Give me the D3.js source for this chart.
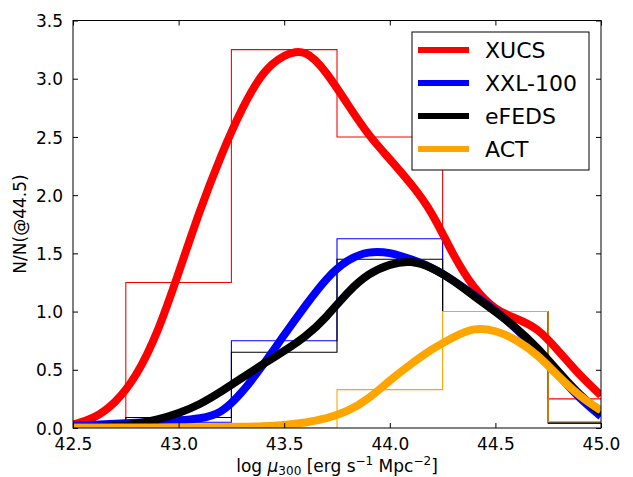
<!DOCTYPE html>
<html><head><meta charset="utf-8">
<script src="https://cdn.jsdelivr.net/npm/d3@7"></script>
<style>body{margin:0;background:#fff}svg{display:block}text{font-family:"DejaVu Sans",sans-serif}</style>
</head><body><svg id="c" width="633" height="477"></svg>
<script>
// ---- data ----
const series = ["XUCS", "XXL-100", "eFEDS", "ACT"];
const colors = ["#ff0000", "#0000ff", "#000000", "#ffa500"];
const binEdges = [42.75, 43.25, 43.75, 44.25, 44.75, 45.25];
const histXUCS = [1.25, 3.25, 2.5, 1.0, 0.25];
const histXXL  = [0.05, 0.75, 1.625, 1.0, 0.04];
const histEFEDS= [0.09, 0.65, 1.45, 1.0, 0.05];
const histACT  = [0.0, 0.0, 0.33, 1.0, 0.055];
const gridX = [42.5,42.6,42.7,42.8,42.9,43.0,43.1,43.2,43.3,43.4,43.5,43.6,43.7,43.8,43.9,44.0,44.1,44.2,44.3,44.4,44.5,44.6,44.7,44.8,44.9,45.0];
const curveXUCS = [0.03,0.08,0.21,0.44,0.81,1.33,1.87,2.34,2.75,3.07,3.21,3.26,3.06,2.78,2.51,2.31,2.10,1.86,1.48,1.19,1.01,0.94,0.86,0.66,0.45,0.28];
const curveXXL  = [0.02,0.028,0.035,0.045,0.055,0.065,0.08,0.12,0.30,0.54,0.80,1.05,1.29,1.45,1.52,1.51,1.45,1.38,1.27,1.14,1.01,0.85,0.67,0.45,0.25,0.10];
const curveEFEDS= [0.005,0.008,0.014,0.035,0.07,0.125,0.20,0.31,0.43,0.55,0.66,0.78,0.95,1.17,1.33,1.41,1.44,1.38,1.27,1.13,1.00,0.86,0.69,0.48,0.28,0.13];
const curveACT  = [0.004,0.004,0.004,0.005,0.005,0.006,0.007,0.008,0.01,0.015,0.025,0.045,0.08,0.14,0.25,0.41,0.55,0.68,0.78,0.865,0.84,0.76,0.63,0.44,0.27,0.15];
const xTicks = [42.5, 43.0, 43.5, 44.0, 44.5, 45.0];
const yTicks = [0.0, 0.5, 1.0, 1.5, 2.0, 2.5, 3.0, 3.5];

const hists = [histXUCS, histXXL, histEFEDS, histACT];
const curves = [curveXUCS, curveXXL, curveEFEDS, curveACT];

// ---- layout ----
const L = 73, R = 601, T = 20.5, B = 428;
const svg = d3.select("#c");
const x = d3.scaleLinear().domain([42.5, 45.0]).range([L, R]);
const y = d3.scaleLinear().domain([0, 3.5]).range([B, T]);

svg.append("defs").append("clipPath").attr("id", "clip")
  .append("rect").attr("x", L).attr("y", T).attr("width", R - L).attr("height", B - T);

const g = svg.append("g").attr("clip-path", "url(#clip)");

// histograms (step outlines)
hists.forEach((h, i) => {
  const path = d3.path();
  path.moveTo(x(binEdges[0]), y(0));
  h.forEach((v, j) => {
    path.lineTo(x(binEdges[j]), y(v));
    path.lineTo(x(binEdges[j + 1]), y(v));
  });
  path.lineTo(x(binEdges[binEdges.length - 1]), y(0));
  g.append("path").attr("d", path.toString()).attr("fill", "none")
    .attr("stroke", colors[i]).attr("stroke-width", 1.1);
});

// smooth curves
const line = d3.line().x((d, k) => x(gridX[k])).y(d => y(d)).curve(d3.curveBasis);
curves.forEach((c, i) => {
  g.append("path").attr("d", line(c)).attr("fill", "none")
    .attr("stroke", colors[i]).attr("stroke-width", 8).attr("stroke-linejoin", "round");
});

// frame
svg.append("rect").attr("x", L).attr("y", T).attr("width", R - L).attr("height", B - T)
  .attr("fill", "none").attr("stroke", "#000").attr("stroke-width", 1);

// axes with inward ticks
const tickLen = 5;
const xb = svg.append("g").attr("transform", `translate(0,${B})`)
  .call(d3.axisBottom(x).tickValues(xTicks).tickFormat(d3.format(".1f")).tickSizeInner(-tickLen).tickSizeOuter(0).tickPadding(10));
const xt = svg.append("g").attr("transform", `translate(0,${T})`)
  .call(d3.axisTop(x).tickValues(xTicks).tickFormat("").tickSizeInner(-tickLen).tickSizeOuter(0));
const yl = svg.append("g").attr("transform", `translate(${L},0)`)
  .call(d3.axisLeft(y).tickValues(yTicks).tickFormat(d3.format(".1f")).tickSizeInner(-tickLen).tickSizeOuter(0).tickPadding(10));
const yr = svg.append("g").attr("transform", `translate(${R},0)`)
  .call(d3.axisRight(y).tickValues(yTicks).tickFormat("").tickSizeInner(-tickLen).tickSizeOuter(0));
[xb, xt, yl, yr].forEach(a => {
  a.select(".domain").remove();
  a.selectAll("line").attr("stroke", "#000").attr("stroke-width", 1);
  a.selectAll("text").attr("font-family", "DejaVu Sans").attr("font-size", 17).attr("fill", "#000");
});
xb.selectAll("text").attr("dy", "0.71em");
yl.selectAll("text").attr("dy", "0.36em");

// axis labels
const xl = svg.append("text").attr("x", 337).attr("y", 472).attr("text-anchor", "middle")
  .attr("font-size", 17).attr("fill", "#000");
xl.append("tspan").text("log ");
xl.append("tspan").attr("font-style", "italic").text("μ");
xl.append("tspan").attr("font-size", 12).attr("dy", 3).text("300");
xl.append("tspan").attr("dy", -3).text(" [erg s");
xl.append("tspan").attr("font-size", 12).attr("dy", -7).text("−1");
xl.append("tspan").attr("dy", 7).text(" Mpc");
xl.append("tspan").attr("font-size", 12).attr("dy", -7).text("−2");
xl.append("tspan").attr("dy", 7).text("]");

svg.append("text").attr("transform", "translate(26,224) rotate(-90)")
  .attr("text-anchor", "middle").attr("font-size", 17).attr("fill", "#000").text("N/N(@44.5)");

// legend
const lg = svg.append("g");
lg.append("rect").attr("x", 412).attr("y", 32).attr("width", 177).attr("height", 138)
  .attr("fill", "#fff").attr("stroke", "#000").attr("stroke-width", 1);
series.forEach((s, i) => {
  const yy = 50 + i * 33;
  lg.append("line").attr("x1", 418).attr("x2", 469).attr("y1", yy).attr("y2", yy)
    .attr("stroke", colors[i]).attr("stroke-width", 6);
  lg.append("text").attr("x", 485).attr("y", yy).attr("dy", "0.36em")
    .attr("font-size", 22).attr("fill", "#000").text(s);
});
</script></body></html>
